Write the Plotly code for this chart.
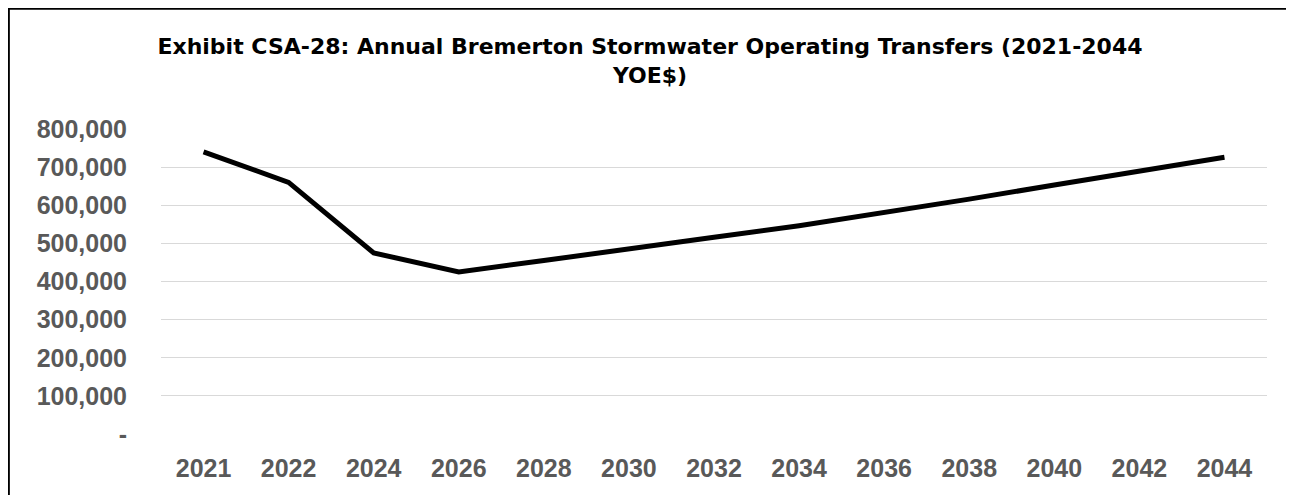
import plotly.graph_objects as go

years = ["2021", "2022", "2024", "2026", "2028", "2030", "2032", "2034",
         "2036", "2038", "2040", "2042", "2044"]
transfers = [740000, 660000, 475000, 425000, 455000, 487000, 516000, 546000,
             580000, 616000, 653000, 690000, 726000]
y_tickvals = [0, 100000, 200000, 300000, 400000, 500000, 600000, 700000, 800000]
y_ticktext = ["-", "100,000", "200,000", "300,000", "400,000", "500,000",
              "600,000", "700,000", "800,000"]
title_text = ("Exhibit CSA-28: Annual Bremerton Stormwater Operating Transfers (2021-2044"
              "<br>YOE$)")

W, H = 1294, 495
ml, mr, mt, mb = 153, 35, 121, 69
pw, ph = W - ml - mr, H - mt - mb

fig = go.Figure()
fig.add_trace(go.Scatter(
    x=years, y=transfers, mode="lines",
    line=dict(color="#000000", width=5, shape="linear"),
    hoverinfo="x+y", showlegend=False,
))

def px_x(p):
    return (p - ml) / pw

def px_y(p):
    return (H - mb - p) / ph

# outer chart border (extends past the right/bottom edges in the reference)
border = dict(type="rect", xref="paper", yref="paper",
              x0=px_x(0.6), x1=px_x(1320), y0=px_y(0.6), y1=px_y(520),
              line=dict(color="#000000", width=2.5), fillcolor="rgba(0,0,0,0)",
              layer="above")

fig.update_layout(
    width=W, height=H,
    margin=dict(l=ml, r=mr, t=mt, b=mb, pad=0),
    paper_bgcolor="#ffffff", plot_bgcolor="#ffffff",
    title=dict(text=title_text, x=0.5 - 5 / W, xref="container", xanchor="center",
               y=1 - 46 / H, yref="container", yanchor="top",
               font=dict(family="DejaVu Sans", size=22, color="#000000", weight="bold")),
    shapes=[border],
    xaxis=dict(type="category", showgrid=False, zeroline=False, showline=False,
               ticks="", tickfont=dict(family="Liberation Sans", size=25, color="#595959",
                                       weight="bold"),
               ticklabelstandoff=17, range=[-0.5, 12.5]),
    yaxis=dict(range=[0, 800000], tickvals=y_tickvals, ticktext=y_ticktext,
               showgrid=True, gridcolor="#d9d9d9", gridwidth=1.3, zeroline=False,
               showline=False, ticks="",
               tickfont=dict(family="Liberation Sans", size=25, color="#595959",
                             weight="bold"),
               ticklabelstandoff=33),
)

fig.write_html("out.html")
